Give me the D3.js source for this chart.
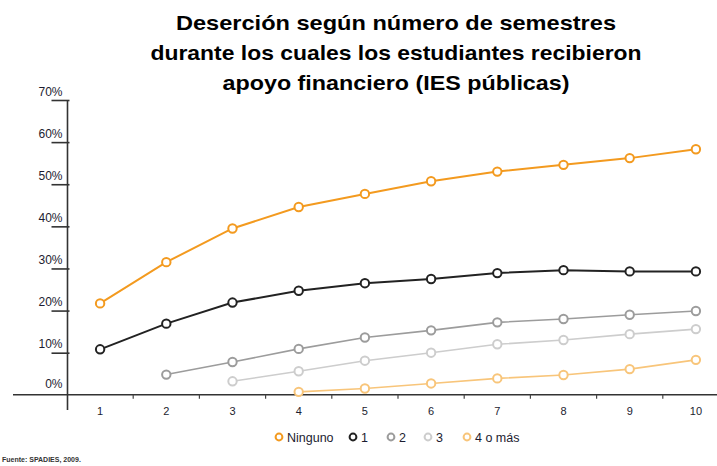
<!DOCTYPE html>
<html>
<head>
<meta charset="utf-8">
<script src="https://cdn.jsdelivr.net/npm/d3@7"></script>
<style>
  body { margin: 0; background: #fff; }
  svg { display: block; font-family: "Liberation Sans", Arial, sans-serif; }
</style>
</head>
<body>
<svg id="chart" width="717" height="466"></svg>
<script>
const semesters = ['1', '2', '3', '4', '5', '6', '7', '8', '9', '10']
const yTicks = [0, 10, 20, 30, 40, 50, 60, 70]

// desercion (%) por semestre; null = sin dato
const ninguno = [21.7, 31.5, 39.5, 44.6, 47.7, 50.7, 53.0, 54.6, 56.2, 58.3]
const uno = [10.8, 16.9, 21.9, 24.7, 26.5, 27.5, 28.9, 29.6, 29.3, 29.3]
const dos = [null, 4.8, 7.8, 10.9, 13.6, 15.3, 17.2, 18.0, 19.0, 19.9]
const tres = [null, null, 3.2, 5.6, 8.1, 10.0, 12.0, 13.0, 14.4, 15.6]
const cuatroOMas = [null, null, null, 0.7, 1.5, 2.7, 3.9, 4.7, 6.1, 8.3]

const seriesNames = ['Ninguno', '1', '2', '3', '4 o más']
const seriesValues = [ninguno, uno, dos, tres, cuatroOMas]
const colors = ['#f39a1f', '#222222', '#9c9c9c', '#cdcdcd', '#f8c57a']

const titleLines = [
  'Deserción según número de semestres',
  'durante los cuales los estudiantes recibieron',
  'apoyo financiero (IES públicas)'
]
const titleWidths = [440, 491, 347]

const svg = d3.select('#chart')

const x = d3.scaleBand().domain(semesters).range([67, 729])
const y = d3.scaleLinear().domain([0, 70]).range([394.8, 100])

// title (the original type is a little wider than Liberation Sans)
svg.append('g').selectAll('text').data(titleLines)
  .enter().append('text')
  .attr('x', 396)
  .attr('y', (d, i) => 29.5 + i * 30.3)
  .attr('text-anchor', 'middle')
  .attr('font-size', 20.5)
  .attr('font-weight', 'bold')
  .attr('fill', '#000')
  .attr('textLength', (d, i) => titleWidths[i])
  .attr('lengthAdjust', 'spacingAndGlyphs')
  .text(d => d)

// y axis
const yAxis = svg.append('g')
  .attr('transform', 'translate(67.5,0)')
  .call(d3.axisLeft(y).tickValues(yTicks).tickFormat(d => d + '%').tickSize(16))
yAxis.select('.domain').remove()
yAxis.selectAll('.tick line')
  .attr('x1', 2)
  .attr('stroke', '#333')
  .attr('stroke-width', 1.6)
  .filter(d => d === 0).remove()
yAxis.selectAll('.tick text')
  .attr('x', -5)
  .attr('dy', null)
  .attr('y', d => d === 0 ? -7 : -5)
  .attr('font-size', 12)
  .attr('font-family', '"Liberation Sans", Arial, sans-serif')
  .attr('fill', '#1c1c30')

svg.append('line')
  .attr('x1', 67.5).attr('x2', 67.5)
  .attr('y1', y(70)).attr('y2', 410)
  .attr('stroke', '#333').attr('stroke-width', 1.6)

// x axis
svg.append('line')
  .attr('x1', 13).attr('x2', 717)
  .attr('y1', y(0)).attr('y2', y(0))
  .attr('stroke', '#333').attr('stroke-width', 1.6)

svg.append('g').selectAll('line').data(semesters.slice(1))
  .enter().append('line')
  .attr('x1', d => x(d)).attr('x2', d => x(d))
  .attr('y1', y(0)).attr('y2', y(0) + 4)
  .attr('stroke', '#444').attr('stroke-width', 1.2)

const xAxis = svg.append('g')
  .attr('transform', `translate(0,${y(0)})`)
  .call(d3.axisBottom(x).tickSize(0).tickPadding(12))
xAxis.select('.domain').remove()
xAxis.selectAll('.tick text')
  .attr('font-size', 11)
  .attr('font-family', '"Liberation Sans", Arial, sans-serif')
  .attr('fill', '#1c1c30')

// lines and markers
const line = d3.line()
  .defined(d => d != null)
  .x((d, i) => x(semesters[i]) + x.bandwidth() / 2)
  .y(d => y(d))

seriesValues.forEach((vals, s) => {
  const g = svg.append('g')
  g.append('path')
    .attr('d', line(vals))
    .attr('fill', 'none')
    .attr('stroke', colors[s])
    .attr('stroke-width', s < 2 ? 2 : 1.6)

  g.selectAll('circle').data(vals.map((v, i) => ({ v, i })).filter(d => d.v != null))
    .enter().append('circle')
    .attr('cx', d => x(semesters[d.i]) + x.bandwidth() / 2)
    .attr('cy', d => y(d.v))
    .attr('r', 4.2)
    .attr('fill', '#fff')
    .attr('stroke', colors[s])
    .attr('stroke-width', 2)
})

// legend
const legendX = [279, 353, 391, 428, 467]
const legend = svg.append('g').selectAll('g').data(seriesNames)
  .enter().append('g')
  .attr('transform', (d, i) => `translate(${legendX[i]},437)`)
legend.append('circle')
  .attr('r', 3.4)
  .attr('fill', '#fff')
  .attr('stroke', (d, i) => colors[i])
  .attr('stroke-width', 2)
legend.append('text')
  .attr('x', 8)
  .attr('y', 4.5)
  .attr('font-size', 12.5)
  .attr('fill', '#1c1c30')
  .text(d => d)

// source
svg.append('text')
  .attr('x', 2)
  .attr('y', 462)
  .attr('font-size', 7)
  .attr('font-weight', 'bold')
  .attr('fill', '#333')
  .text('Fuente: SPADIES, 2009.')
</script>
</body>
</html>
